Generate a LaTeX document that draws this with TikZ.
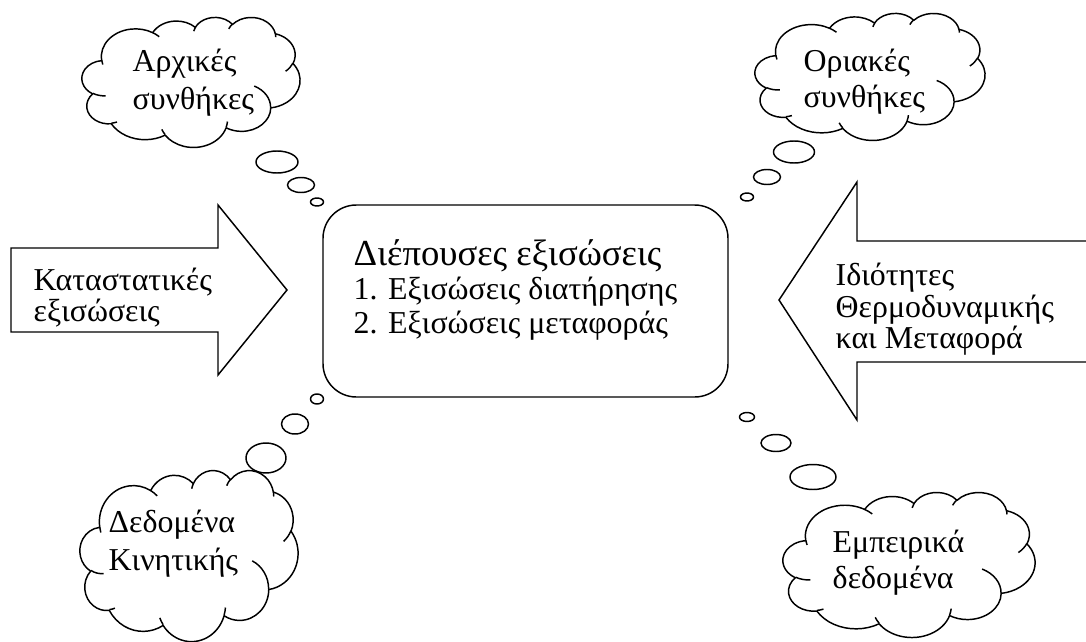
\documentclass[tikz,border=0pt]{standalone}
\usepackage{fontspec}
\setmainfont{Liberation Serif}
\begin{document}
\begin{tikzpicture}[x=0.75pt,y=-0.75pt,line width=1.1pt,line join=round,
  declare function={ptang(\a,\b,\c)=atan2(\b*sin(\a),\c*cos(\a))+360*round((\a-atan2(\b*sin(\a),\c*cos(\a)))/360);},
  oa/.style n args={4}{x radius={#1},y radius={#2},start angle={ptang(#3,#1,#2)},end angle={ptang(#3+#4,#1,#2)}},
  txt/.style={anchor=base west,inner sep=0pt,font=\fontsize{23.9}{26}\selectfont},
  ttl/.style={anchor=base west,inner sep=0pt,font=\fontsize{27.5}{30}\selectfont}]
\newcommand\wcloud{%
  \draw (39,143.7)
    arc[oa={67.53}{91.90}{-190.4875}{123.7805}]
    arc[oa={53.33}{72.67}{-144.1024}{89.9452}]
    arc[oa={43.65}{59.45}{-145.8079}{99.7230}]
    arc[oa={48.57}{65.95}{-130.9861}{117.2417}]
    arc[oa={53.33}{72.73}{-78.7089}{109.0269}]
    arc[oa={67.75}{92.20}{-46.2673}{130.2690}]
    arc[oa={57.85}{78.67}{0.6250}{114.0333}]
    arc[oa={67.52}{92.15}{22.4516}{115.1726}]
    arc[oa={77.20}{105.43}{66.2426}{75.7110}]
    arc[oa={43.60}{59.18}{-274.9421}{146.7356}]
    arc[oa={43.45}{59.45}{-246.8285}{152.5189}] -- cycle;
  \draw (46.93,261.77) arc[oa={43.45}{59.45}{86.7420}{26.4295}]
        (69.28,348.99) arc[oa={43.60}{59.18}{73.6105}{11.4475}]
        (164.78,390.90) arc[oa={67.52}{92.15}{137.6242}{14.0811}]
        (288.27,347.51) arc[oa={67.52}{92.15}{6.4533}{15.9984}]
        (341.29,229.54) arc[oa={57.85}{78.67}{-70.2924}{70.9174}]
        (417.98,153.54) arc[oa={53.33}{72.73}{30.3180}{27.7515}]
        (383.24,54.26) arc[oa={48.57}{65.95}{-13.7443}{14.8589}]
        (290.78,39.52) arc[oa={48.57}{65.95}{-149.1815}{18.1954}]
        (221.41,47.20) arc[oa={43.65}{59.45}{-163.4943}{17.6864}]
        (140.00,51.92) arc[oa={67.53}{91.90}{-66.7070}{12.3194}]
        (41.27,157.89) arc[oa={67.53}{91.90}{157.6544}{11.8582}];
}
\useasboundingbox (0,0) rectangle (1086,642);
% clouds
\begin{scope}[shift={(82,17)},xscale={218/432},yscale={130/432}]\wcloud\end{scope}
\begin{scope}[shift={(755,13)},xscale={230/432},yscale={127/432}]\wcloud\end{scope}
\begin{scope}[shift={(80,470)},xscale={218/432},yscale={171/432}]\wcloud\end{scope}
\begin{scope}[shift={(783,492)},xscale={252/432},yscale={145/432}]\wcloud\end{scope}
% bubbles
\draw (277,162) ellipse (21 and 11);
\draw (301,185) ellipse (13.5 and 7.5);
\draw (317,202) ellipse (6.5 and 4);
\draw (794,152) ellipse (20.5 and 11);
\draw (767,177) ellipse (13.5 and 7.5);
\draw (747,197) ellipse (6.5 and 4);
\draw (317,399) ellipse (6.5 and 5);
\draw (295,424) ellipse (13.5 and 10);
\draw (266,458) ellipse (20 and 15);
\draw (747,417) ellipse (7.5 and 4.5);
\draw (776,443) ellipse (15 and 8.5);
\draw (813,477) ellipse (23 and 12.5);
% arrows
\draw[line join=miter] (11,248) -- (218,248) -- (218,205) -- (287,290) -- (218,375) -- (218,332) -- (11,332) -- cycle;
\draw[line join=miter] (1090,241) -- (857,241) -- (857,182) -- (779,300) -- (857,420) -- (857,362) -- (1090,362);
% centre box
\draw[rounded corners=25] (323,205) rectangle (728,397);
% texts
\node[txt] (t1) at (132,72) {Αρχικές};
\node[txt] (t2) at (132,110) {συνθήκες};
\node[txt] (t3) at (803,72) {Οριακές};
\node[txt] (t4) at (803,108) {συνθήκες};
\node[txt] (t5) at (108,532) {Δεδομένα};
\node[txt] (t6) at (108,570) {Κινητικής};
\node[txt] (t7) at (832,552) {Εμπειρικά};
\node[txt] (t8) at (832,588) {δεδομένα};
\node[txt] (t9) at (33,290) {Καταστατικές};
\node[txt] (t10) at (33,321) {εξισώσεις};
\node[txt] (t11) at (835,285) {Ιδιότητες};
\node[txt] (t12) at (835,317) {Θερμοδυναμικής};
\node[txt] (t13) at (835,348) {και Μεταφορά};
\node[ttl] (h1) at (353,265) {Διέπουσες εξισώσεις};
\node[txt] (h2) at (353,299) {1. Εξισώσεις διατήρησης};
\node[txt] (h3) at (353,333) {2. Εξισώσεις μεταφοράς};
\end{tikzpicture}
\end{document}
